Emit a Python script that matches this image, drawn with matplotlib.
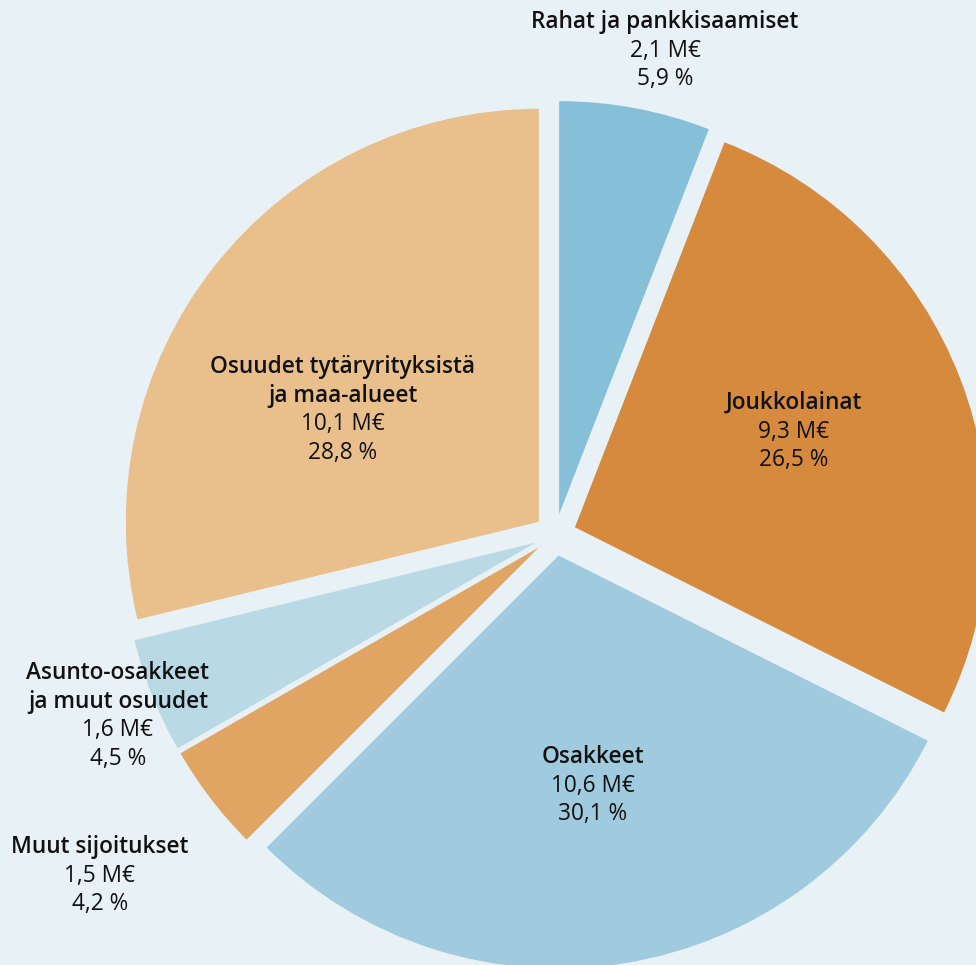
import numpy as np
import matplotlib
matplotlib.use("Agg")
import matplotlib.pyplot as plt

# data, clockwise from 12 o'clock
names = ["Rahat ja pankkisaamiset", "Joukkolainat", "Osakkeet",
         "Muut sijoitukset", "Asunto-osakkeet\nja muut osuudet",
         "Osuudet tytäryrityksistä\nja maa-alueet"]
meur = [2.1, 9.3, 10.6, 1.5, 1.6, 10.1]
share = [5.9, 26.5, 30.1, 4.2, 4.5, 28.8]
colors = ["#85bfd8", "#d58a3d", "#a0cbde", "#e0a563", "#b9d9e5", "#e9c08c"]

bg = "#e8f1f6"
W, H = 976, 965

# label anchors (pixel coords of first line centre)
label_pos = [(665, 22), (794, 403), (593, 757), (100, 847), (118, 673), (343, 367)]
line_step = 28.7

plt.rcParams['font.family'] = ['Open Sans', 'DejaVu Sans']

fig = plt.figure(figsize=(W / 100, H / 100), dpi=100, facecolor=bg)
ax = fig.add_axes([0, 0, 1, 1])
ax.set_facecolor(bg)

R = 413
ax.pie(share, colors=colors, startangle=90, counterclock=False,
       center=(555.3, H - 534.8), radius=R,
       explode=[21] * len(share),
       wedgeprops=dict(linewidth=0))

ax.set_xlim(0, W)
ax.set_ylim(0, H)
ax.set_aspect('auto')
ax.axis('off')


def fi(v):
    return f"{v:.1f}".replace(".", ",")


for name, m, s, (px, py) in zip(names, meur, share, label_pos):
    lines = name.split("\n")
    k = 0
    for ln in lines:
        ax.text(px, H - (py + k * line_step), ln, ha='center', va='center',
                fontsize=16.3, fontweight='semibold', color='#111111')
        k += 1
    for ln in [fi(m) + " M€", fi(s) + " %"]:
        ax.text(px, H - (py + k * line_step), ln, ha='center', va='center',
                fontsize=16.3, color='#111111')
        k += 1

fig.savefig("out.png", dpi=100, facecolor=bg)
